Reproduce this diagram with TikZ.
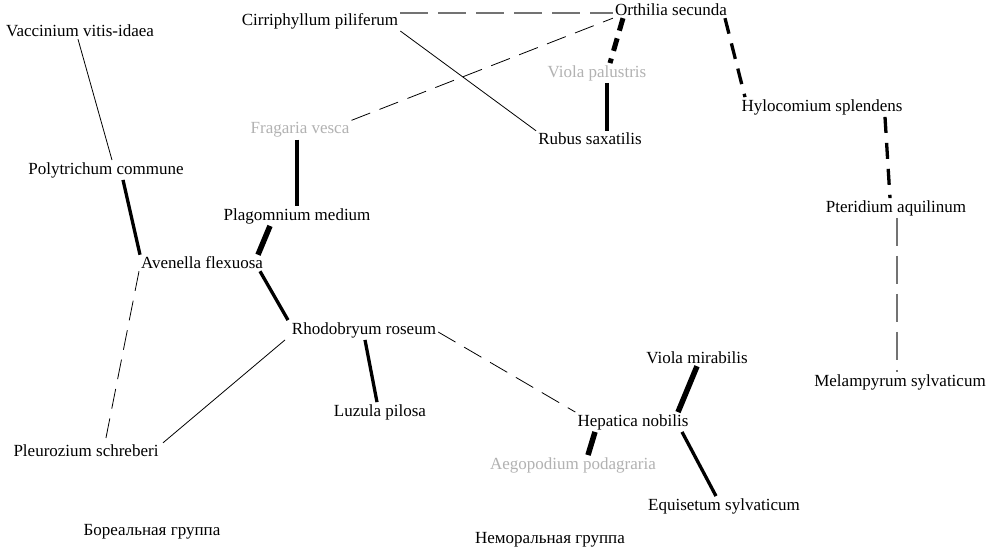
\documentclass[tikz,border=0pt]{standalone}
\usepackage{fontspec}
\setmainfont{Liberation Serif}
\begin{document}
\begin{tikzpicture}[x=1pt,y=-1pt,
  lbl/.style={inner sep=2pt, font=\fontsize{17}{19}\selectfont, text=black},
  faded/.style={lbl, text=black!30},
  lnthin/.style={line width=0.8pt, black},
  lnthick/.style={line width=3.3pt, black},
  lnbold/.style={line width=5.5pt, black},
  dthin/.style={line width=0.8pt, black, dash pattern=on 20pt off 10pt},
  dgray/.style={line width=1.5pt, black!55, dash pattern=on 28pt off 10pt},
  dthick/.style={line width=3.3pt, black, dash pattern=on 16pt off 10pt},
  dbold/.style={line width=5pt, black, dash pattern=on 13pt off 8pt}]
\useasboundingbox (0,0) rectangle (991,551);
\fill[white] (0,0) rectangle (991,551);

\node[lbl] (vacc) at (80,31) {Vaccinium vitis-idaea};
\node[lbl] (cirr) at (320,21) {Cirriphyllum piliferum};
\node[lbl] (orth) at (671,10) {Orthilia secunda};
\node[faded] (violap) at (597,73) {Viola palustris};
\node[faded] (frag) at (300,130) {Fragaria vesca};
\node[lbl] (rubus) at (590,139) {Rubus saxatilis};
\node[lbl] (hylo) at (822,107) {Hylocomium splendens};
\node[lbl] (poly) at (106,170) {Polytrichum commune};
\node[lbl] (plag) at (297,216) {Plagomnium medium};
\node[lbl] (aven) at (202,263) {Avenella flexuosa};
\node[lbl] (pter) at (896,208) {Pteridium aquilinum};
\node[lbl] (rhodo) at (364,330) {Rhodobryum roseum};
\node[lbl] (violam) at (697,358) {Viola mirabilis};
\node[lbl] (mel) at (900,382) {Melampyrum sylvaticum};
\node[lbl] (luz) at (380,412) {Luzula pilosa};
\node[lbl] (hep) at (633,422) {Hepatica nobilis};
\node[lbl] (pleur) at (86,451) {Pleurozium schreberi};
\node[faded] (aeg) at (573,465) {Aegopodium podagraria};
\node[lbl] (equ) at (724,506) {Equisetum sylvaticum};
\node[lbl] (bor) at (152,532) {Бореальная группа};
\node[lbl] (nem) at (550,540) {Неморальная группа};

\draw[lnthin] ([xshift=-2pt]vacc.south) -- ([xshift=6pt]poly.north);
\draw[lnthick] ([xshift=17pt]poly.south) -- ([xshift=-62pt]aven.north);
\draw[dthin] ([xshift=-63pt]aven.south) -- ([xshift=19pt]pleur.north);
\draw[lnbold] ([xshift=-27pt]plag.south) -- ([xshift=56pt]aven.north);
\draw[lnthick] ([xshift=58pt]aven.south) -- ([xshift=-76pt]rhodo.north);
\draw[lnthin] ([xshift=-79pt]rhodo.south) -- ([xshift=77pt]pleur.north);
\draw[lnthick] ([xshift=1pt]rhodo.south) -- ([xshift=-3pt]luz.north);
\draw[dthin] ([yshift=-2pt]rhodo.east) -- (hep.north west);
\draw[lnthick] ([xshift=-3pt]frag.south) -- (plag.north);
\draw[dthin] (frag.north east) -- (orth.south west);
\draw[dgray] ([yshift=8pt]cirr.east) -- ([yshift=-3pt]orth.west);
\draw[lnthin] (cirr.south east) -- (rubus.north west);
\draw[dbold] ([xshift=-48pt]orth.south) -- ([xshift=13pt]violap.north);
\draw[lnthick] ([xshift=10pt]violap.south) -- ([xshift=17pt]rubus.north);
\draw[dthick] ([xshift=54pt]orth.south) -- ([xshift=-77pt]hylo.north);
\draw[dthick] ([xshift=63pt]hylo.south) -- ([xshift=-6pt]pter.north);
\draw[dgray] ([xshift=1pt]pter.south) -- ([xshift=-3pt]mel.north);
\draw[lnbold] (violam.south) -- ([xshift=45pt]hep.north);
\draw[lnbold] ([xshift=-38pt]hep.south) -- ([xshift=15pt]aeg.north);
\draw[lnthick] ([xshift=49pt]hep.south) -- ([xshift=-8pt]equ.north);
\end{tikzpicture}
\end{document}
